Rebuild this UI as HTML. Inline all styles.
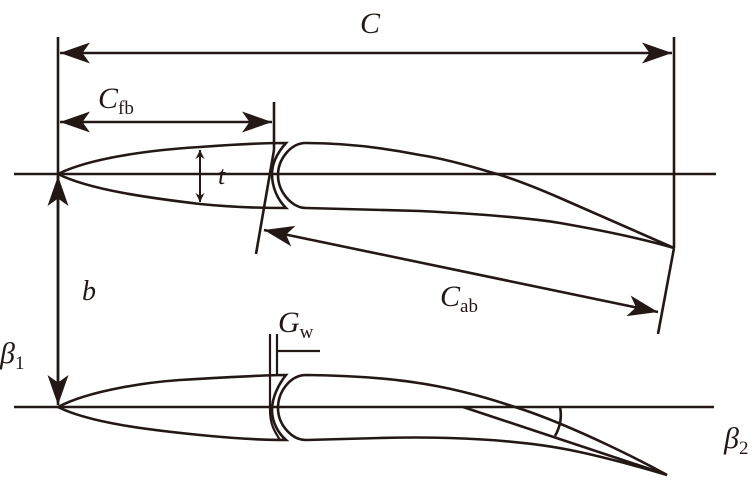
<!DOCTYPE html>
<html><head><style>body{margin:0;background:#fff}svg{display:block}text{font-family:"Liberation Serif",serif;fill:#231815}</style></head><body>
<svg width="753" height="480" viewBox="0 0 753 480" xmlns="http://www.w3.org/2000/svg">
<defs><marker id="a" viewBox="0 0 10 10" refX="10" refY="5" markerWidth="9" markerHeight="9" orient="auto-start-reverse" markerUnits="userSpaceOnUse"><path d="M0,0 L10,5 L0,10 L3,5z" fill="#231815"/></marker>
<marker id="s" viewBox="0 0 10 10" refX="10" refY="5" markerWidth="30" markerHeight="30" orient="auto-start-reverse" markerUnits="userSpaceOnUse"><path d="M0,1.5 L10,5 L0,8.5 L2.5,5z" fill="#231815"/></marker></defs>
<g stroke="#231815" stroke-width="2.6" fill="none">
<line x1="14" y1="174" x2="716" y2="174"/>
<line x1="14" y1="407" x2="714" y2="407"/>
<line x1="58" y1="37" x2="58" y2="402"/>
<line x1="674" y1="37" x2="674" y2="248"/>
<line x1="674" y1="248" x2="658" y2="334"/>
<line x1="60" y1="53" x2="672" y2="53" marker-start="url(#s)" marker-end="url(#s)"/>
<line x1="60" y1="122" x2="272" y2="122" marker-start="url(#s)" marker-end="url(#s)"/>
<line x1="274" y1="102" x2="274" y2="150"/>
<line x1="274" y1="150" x2="256" y2="254"/>
<line x1="58" y1="176" x2="58" y2="405" marker-start="url(#s)" marker-end="url(#s)"/>
<line x1="264" y1="230" x2="658" y2="312" marker-start="url(#s)" marker-end="url(#s)"/>
<line x1="200" y1="150" x2="200" y2="202" stroke-width="2" marker-start="url(#a)" marker-end="url(#a)"/>
<path d="M58,174 C90,158 150,150 200,147 C240,144 270,143 286,143 C278,152 272,162 272,174 C272,188 278,200 286,208 C260,208 230,207 200,204 C150,198 90,190 58,174"/>
<path d="M306,143 C290,143 278,160 278,175 C278,192 292,208 306,208 L420,211 C480,214 530,218 560,223 C600,230 640,238 674,248 L560,198 C530,185 505,176 490,172 C460,163 440,158 420,155 C380,147 340,143 306,143Z"/>
<path d="M58,407 C90,390 150,382 180,380 C230,377 270,375 286,375 C278,385 272,398 272,410 C272,422 278,433 286,440 C260,440 230,438 200,435 C150,430 90,423 58,407"/>
<path d="M270,334 V410 C270,425 275,432 280,440" stroke-width="2.2"/>
<line x1="277" y1="334" x2="277" y2="376" stroke-width="2.2"/>
<line x1="277" y1="351" x2="320" y2="351" stroke-width="2.2"/>
<path d="M306,375 C290,375 278,392 278,408 C278,425 292,440 306,440 L380,438 C450,436 520,440 570,450 C610,458 650,470 667,475 C640,460 580,430 530,412 C470,392 420,376 306,375Z"/>
<line x1="463" y1="407" x2="665" y2="474"/>
<path d="M560,407 Q563,422 555,436"/>
</g>
<text x="360" y="33" font-size="30" font-style="italic">C</text>
<text x="98" y="108" font-size="30" font-style="italic">C<tspan font-size="19" font-style="normal" dy="6">fb</tspan></text>
<text x="218" y="184" font-size="26" font-style="italic">t</text>
<text x="82" y="300" font-size="28" font-style="italic">b</text>
<text x="0" y="363" font-size="30" font-style="italic">β<tspan font-size="19" font-style="normal" dy="6">1</tspan></text>
<text x="278" y="332" font-size="30" font-style="italic">G<tspan font-size="19" font-style="normal" dy="6">w</tspan></text>
<text x="440" y="306" font-size="30" font-style="italic">C<tspan font-size="19" font-style="normal" dy="6">ab</tspan></text>
<text x="724" y="448" font-size="30" font-style="italic">β<tspan font-size="19" font-style="normal" dy="6">2</tspan></text>
</svg></body></html>
